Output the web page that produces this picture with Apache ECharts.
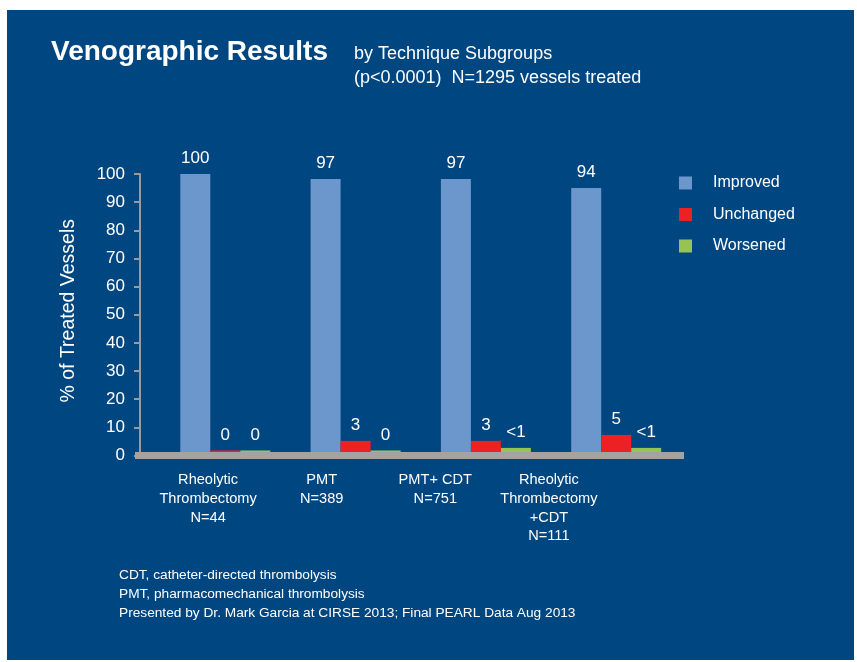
<!DOCTYPE html>
<html>
<head>
<meta charset="utf-8">
<script src="https://cdn.jsdelivr.net/npm/echarts@6/dist/echarts.min.js"></script>
<style>
  html, body { margin: 0; padding: 0; background: #ffffff; }
  #panel { position: absolute; left: 7px; top: 10px; width: 847px; height: 650px; background: #004680; }
  #chart { position: absolute; left: 0; top: 0; width: 857px; height: 662px; }
</style>
</head>
<body>
<div id="panel"></div>
<div id="chart"></div>
<script>
// ---- data ----
const categories = ['Rheolytic\nThrombectomy\nN=44', 'PMT\nN=389', 'PMT+ CDT\nN=751', 'Rheolytic\nThrombectomy\n+CDT\nN=111'];
const seriesNames = ['Improved', 'Unchanged', 'Worsened'];
// bar heights as drawn
const improved  = [100, 98.2, 98.2, 95];
const unchanged = [1.8, 5.2, 5.2, 7.3];
const worsened  = [1.8, 1.8, 2.7, 2.7];
// value labels as printed
const improvedLabels  = ['100', '97', '97', '94'];
const unchangedLabels = ['0', '3', '3', '5'];
const worsenedLabels  = ['0', '0', '<1', '<1'];
const yTicks = { min: 0, max: 100, interval: 10 };

const FONT = '"Liberation Sans", Arial, Helvetica, sans-serif';
const colors = ['#6b97cd', '#ed2024', '#97c353'];

const chart = echarts.init(document.getElementById('chart'), null, { renderer: 'canvas' });

function barSeries(name, data, labels, color) {
  return {
    name: name,
    type: 'bar',
    xAxisIndex: 0,
    yAxisIndex: 0,
    data: data,
    barWidth: 30,
    barGap: '0%',
    itemStyle: { color: color },
    label: {
      show: true,
      position: 'top',
      distance: 7,
      color: '#ffffff',
      fontFamily: FONT,
      fontSize: 17,
      formatter: p => labels[p.dataIndex]
    },
    emphasis: { disabled: true }
  };
}

const option = {
  backgroundColor: 'transparent',
  animation: false,
  textStyle: { fontFamily: FONT },
  title: [
    {
      text: 'Venographic Results',
      left: 51, top: 38,
      padding: 0,
      textStyle: { color: '#ffffff', fontFamily: FONT, fontSize: 28, fontWeight: 'bold', lineHeight: 28 }
    },
    {
      text: 'by Technique Subgroups\n(p<0.0001)  N=1295 vessels treated',
      left: 354, top: 42,
      padding: 0,
      textStyle: { color: '#ffffff', fontFamily: FONT, fontSize: 18, fontWeight: 'normal', lineHeight: 24 }
    },
    {
      text: 'CDT, catheter-directed thrombolysis\nPMT, pharmacomechanical thrombolysis\nPresented by Dr. Mark Garcia at CIRSE 2013; Final PEARL Data Aug 2013',
      left: 119, top: 566,
      padding: 0,
      textStyle: { color: '#ffffff', fontFamily: FONT, fontSize: 13.7, fontWeight: 'normal', lineHeight: 18.8 }
    }
  ],
  legend: {
    orient: 'vertical',
    left: 679,
    top: 175,
    padding: 0,
    itemWidth: 13,
    itemHeight: 13,
    itemGap: 15.5,
    icon: 'rect',
    selectedMode: false,
    data: seriesNames,
    textStyle: { color: '#ffffff', fontFamily: FONT, fontSize: 16, lineHeight: 16, padding: [0, 0, 0, 16] }
  },
  grid: [
    { left: 160.15, width: 521.2, top: 174, bottom: 206.5 },   // bars
    { left: 135, right: 173, top: 174, bottom: 206.5 },        // baseline
    { left: 151.3, right: 251.3, top: 174, bottom: 206.5 }     // category labels
  ],
  xAxis: [
    {
      gridIndex: 0, type: 'category', data: categories,
      axisLine: { show: false }, axisTick: { show: false }, axisLabel: { show: false }
    },
    {
      gridIndex: 1, type: 'category', data: categories, z: 10,
      axisLine: { show: true, lineStyle: { color: '#a3a3a3', width: 7, cap: 'butt' } },
      axisTick: { show: false }, axisLabel: { show: false }
    },
    {
      gridIndex: 2, type: 'category', data: categories,
      axisLine: { show: false }, axisTick: { show: false },
      axisLabel: {
        show: true, interval: 0, margin: 15,
        color: '#ffffff', fontFamily: FONT, fontSize: 14.6, lineHeight: 18.8
      }
    }
  ],
  yAxis: [
    {
      gridIndex: 0, type: 'value',
      min: yTicks.min, max: yTicks.max, interval: yTicks.interval,
      offset: 20.15,
      name: '% of Treated Vessels',
      nameLocation: 'middle',
      nameGap: 61,
      nameRotate: 90,
      nameTextStyle: { color: '#ffffff', fontFamily: FONT, fontSize: 19.5, padding: [0, 0, 0, 8] },
      axisLine: { show: true, lineStyle: { color: '#9a9a9a', width: 2 } },
      axisTick: { show: true, length: 6, lineStyle: { color: '#9a9a9a', width: 2 } },
      splitLine: { show: false },
      axisLabel: { color: '#ffffff', fontFamily: FONT, fontSize: 17, margin: 15 }
    },
    { gridIndex: 1, type: 'value', min: 0, max: 100, show: false },
    { gridIndex: 2, type: 'value', min: 0, max: 100, show: false }
  ],
  series: [
    barSeries(seriesNames[0], improved, improvedLabels, colors[0]),
    barSeries(seriesNames[1], unchanged, unchangedLabels, colors[1]),
    barSeries(seriesNames[2], worsened, worsenedLabels, colors[2])
  ]
};

chart.setOption(option);
</script>
</body>
</html>
